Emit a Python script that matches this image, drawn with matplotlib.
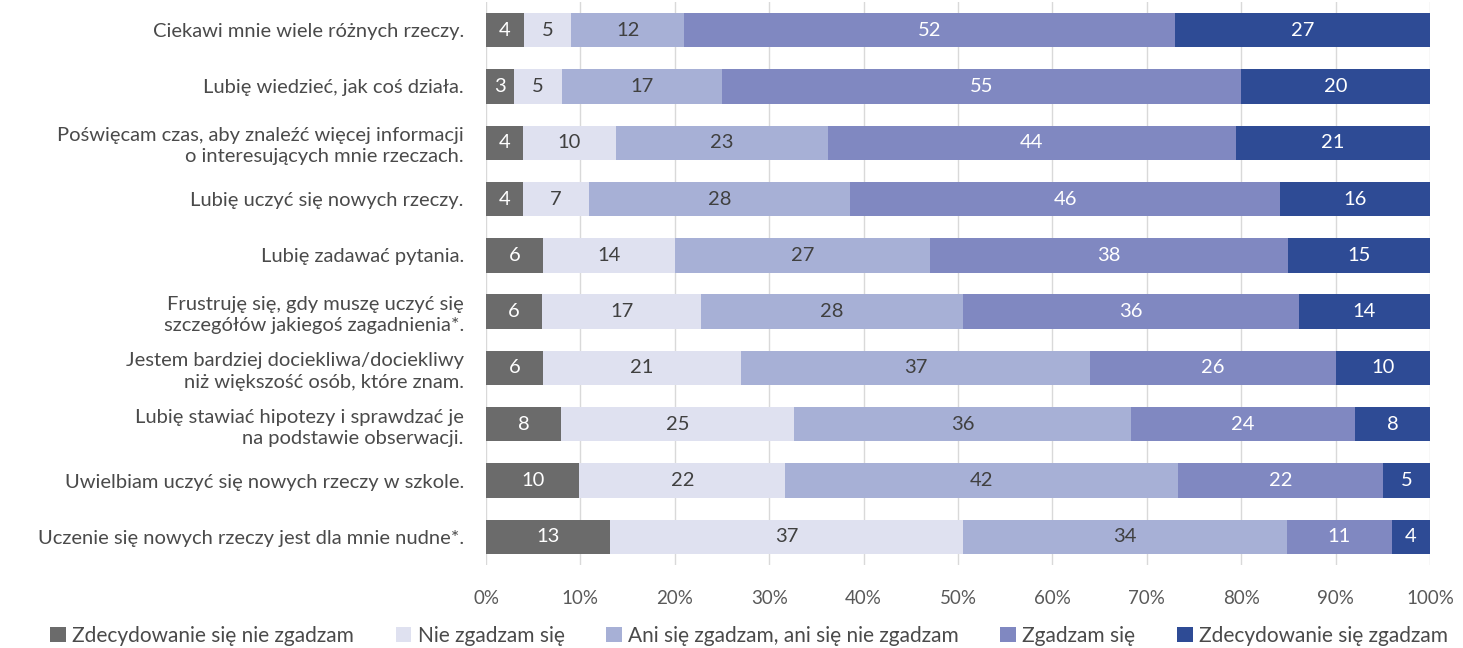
import matplotlib
matplotlib.use("Agg")
import matplotlib.pyplot as plt
import numpy as np

plt.rcParams['font.family'] = ['Lato', 'DejaVu Sans']

categories = [
    "Ciekawi mnie wiele różnych rzeczy.",
    "Lubię wiedzieć, jak coś działa.",
    "Poświęcam czas, aby znaleźć więcej informacji\no interesujących mnie rzeczach.",
    "Lubię uczyć się nowych rzeczy.",
    "Lubię zadawać pytania.",
    "Frustruję się, gdy muszę uczyć się\nszczegółów jakiegoś zagadnienia*.",
    "Jestem bardziej dociekliwa/dociekliwy\nniż większość osób, które znam.",
    "Lubię stawiać hipotezy i sprawdzać je\nna podstawie obserwacji.",
    "Uwielbiam uczyć się nowych rzeczy w szkole.",
    "Uczenie się nowych rzeczy jest dla mnie nudne*.",
]
series_names = [
    "Zdecydowanie się nie zgadzam",
    "Nie zgadzam się",
    "Ani się zgadzam, ani się nie zgadzam",
    "Zgadzam się",
    "Zdecydowanie się zgadzam",
]
strongly_disagree = [4, 3, 4, 4, 6, 6, 6, 8, 10, 13]
disagree = [5, 5, 10, 7, 14, 17, 21, 25, 22, 37]
neutral = [12, 17, 23, 28, 27, 28, 37, 36, 42, 34]
agree = [52, 55, 44, 46, 38, 36, 26, 24, 22, 11]
strongly_agree = [27, 20, 21, 16, 15, 14, 10, 8, 5, 4]

colors = ["#6b6b6b", "#dfe1f0", "#a7b0d6", "#8088c1", "#2e4b95"]
text_colors = ["white", "#404040", "#404040", "white", "white"]

data = np.array([strongly_disagree, disagree, neutral, agree, strongly_agree], dtype=float)
totals = data.sum(axis=0)
pct = data / totals

fig = plt.figure(figsize=(14.63, 6.48), dpi=100)
ax = fig.add_axes([0.3322, 0.128, 0.6452, 0.869])

y = np.arange(len(categories))
left = np.zeros(len(categories))
for i, name in enumerate(series_names):
    bars = ax.barh(y, pct[i], left=left, height=0.61, color=colors[i], label=name, zorder=2)
    for j, b in enumerate(bars):
        ax.text(left[j] + pct[i][j] / 2, y[j], f"{int(data[i][j])}", ha="center", va="center",
                color=text_colors[i], fontsize=14.5, zorder=3)
    left += pct[i]

ax.set_ylim(9.5, -0.5)
ax.set_xlim(0, 1)
ax.set_yticks(y)
ax.set_yticklabels(categories, fontsize=14.5, color="#4a4a4a", linespacing=1.3)
ax.set_xticks(np.linspace(0, 1, 11))
ax.set_xticklabels([f"{k}%" for k in range(0, 101, 10)], fontsize=13.5, color="#595959")
ax.tick_params(axis="both", length=0)
ax.tick_params(axis="x", pad=18)
ax.tick_params(axis="y", pad=16)
ax.xaxis.grid(True, color="#d9d9d9", linewidth=1, zorder=0)
for s in ax.spines.values():
    s.set_visible(False)

fig.legend(loc="center", bbox_to_anchor=(0.512, 0.019), ncol=5, frameon=False,
           fontsize=15, handlelength=0.75, handleheight=0.75, handletextpad=0.3,
           columnspacing=2.0, labelcolor="#4a4a4a")

fig.savefig("out.png", dpi=100)
